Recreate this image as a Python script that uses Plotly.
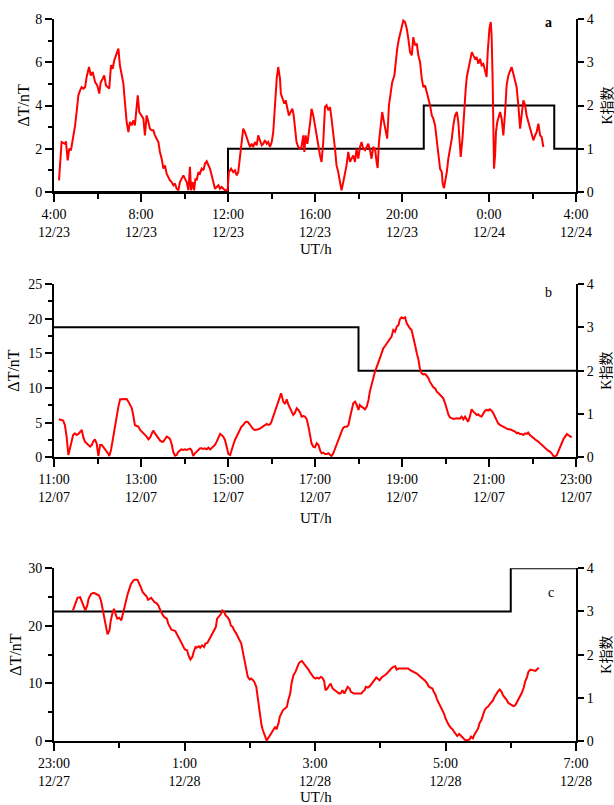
import plotly.graph_objects as go

# ---------------- data ----------------
# Panel a: hours since 04:00 12/23 ; dT in nT
a_time = [
    0.23,0.35,0.51,0.55,0.63,0.70,0.78,0.86,0.97,1.04,
    1.12,1.20,1.27,1.35,1.43,1.50,1.61,1.69,1.78,1.89,
    1.99,2.08,2.15,2.24,2.31,2.39,2.50,2.54,2.62,2.70,
    2.77,2.88,2.96,3.03,3.11,3.19,3.26,3.34,3.42,3.49,
    3.57,3.65,3.72,3.80,3.85,3.92,4.03,4.11,4.18,4.26,
    4.34,4.41,4.49,4.57,4.64,4.72,4.80,4.87,4.95,5.03,
    5.10,5.18,5.26,5.33,5.41,5.49,5.56,5.64,5.72,5.79,
    5.87,5.95,6.02,6.10,6.18,6.25,6.30,6.38,6.44,6.50,
    6.56,6.64,6.71,6.79,6.87,6.94,7.02,7.10,7.17,7.25,
    7.33,7.40,7.48,7.56,7.63,7.71,7.79,7.86,7.98,8.04,
    8.14,8.24,8.32,8.40,8.47,8.55,8.63,8.70,8.78,8.86,
    8.93,9.01,9.09,9.16,9.24,9.32,9.39,9.47,9.55,9.62,
    9.70,9.78,9.85,9.93,10.01,10.08,10.16,10.24,10.31,10.39,
    10.43,10.50,10.59,10.65,10.73,10.80,10.88,10.96,11.02,11.08,
    11.15,11.23,11.31,11.38,11.46,11.51,11.57,11.65,11.72,11.78,
    11.84,11.92,12.00,12.07,12.15,12.23,12.30,12.38,12.46,12.53,
    12.61,12.69,12.76,12.84,12.92,12.99,13.07,13.15,13.22,13.30,
    13.38,13.45,13.53,13.61,13.68,13.76,13.84,13.91,13.99,14.07,
    14.14,14.22,14.30,14.37,14.45,14.53,14.60,14.68,14.76,14.83,
    14.88,14.94,15.02,15.09,15.17,15.25,15.32,15.40,15.48,15.55,
    15.65,15.71,15.78,15.86,15.94,16.01,16.06,16.14,16.22,16.29,
    16.37,16.45,16.52,16.60,16.68,16.75,16.83,16.91,16.98,17.06,
    17.14,17.21,17.29,17.37,17.44,17.52,17.60,17.67,17.75,17.83,
    17.87,17.93,17.99,18.06,18.13,18.21,18.29,18.36,18.44,18.52,
    18.59,18.64,18.70,18.78,18.85,18.93,18.98,19.05,19.13,19.21,
    19.28,19.36,19.43,19.51,19.59,19.66,19.74,19.82,19.89,19.94,
    20.02,20.08,20.12,20.17,20.20,20.23,20.28,20.32,20.38,20.45,
    20.51,20.58,20.66,20.74,20.81,20.89,20.97,21.04,21.12,21.20,
    21.27,21.35,21.43,21.50,21.58,21.66,21.73,21.81,21.89,21.96,
    22.04,22.12,22.19,22.27,22.35,22.42,22.50,
]
a_dT = [
    0.54,2.31,2.23,2.34,1.46,2.00,1.93,2.39,3.08,3.70,
    4.47,4.70,4.85,4.78,4.85,5.32,5.78,5.39,5.55,5.08,
    4.93,4.55,5.08,5.24,5.39,4.93,4.85,4.78,5.86,5.70,
    6.09,6.47,6.63,5.86,5.47,5.01,4.16,3.24,2.77,3.24,
    3.08,3.31,3.08,4.01,4.47,3.70,3.54,3.39,2.62,3.54,
    3.24,2.93,2.85,2.85,2.62,2.47,2.31,1.85,1.54,1.08,
    1.23,0.85,0.69,0.54,0.46,0.31,0.39,0.15,0.08,0.46,
    0.62,0.77,0.62,0.46,0.08,1.16,0.08,0.46,0.08,0.62,
    0.54,0.92,0.85,1.08,1.00,1.31,1.42,1.23,1.08,0.77,
    0.39,0.15,0.23,0.31,0.15,0.23,0.15,0.08,0.08,0.92,
    1.08,0.92,1.00,0.77,0.92,1.69,2.31,2.93,2.77,2.47,
    2.31,2.08,2.23,2.08,2.31,2.16,2.62,2.39,2.16,2.23,
    2.39,2.23,2.31,2.08,2.31,2.77,4.01,5.24,5.78,5.24,
    4.55,4.31,4.08,4.24,3.93,3.54,3.70,3.85,3.54,2.93,
    2.31,2.08,2.00,2.08,2.62,1.85,2.62,2.23,2.70,3.24,
    3.85,3.54,3.08,2.62,2.31,1.69,1.39,2.31,3.93,4.01,
    3.78,3.93,3.39,2.77,2.00,1.23,0.92,0.46,0.08,0.46,
    0.85,1.23,1.85,1.39,1.54,1.69,1.39,2.00,1.54,2.08,
    2.31,2.00,1.93,2.08,2.23,1.93,1.54,2.08,2.00,1.39,
    1.11,2.31,2.93,3.70,3.24,2.85,2.47,4.01,4.62,5.08,
    5.39,6.01,6.63,7.09,7.40,7.70,7.93,7.86,7.55,7.09,
    6.47,6.32,7.16,6.78,6.86,6.32,6.01,5.24,4.85,4.93,
    4.62,4.39,4.01,3.54,3.39,3.08,2.47,1.85,1.08,0.92,
    0.39,0.18,0.46,0.92,1.54,2.00,2.47,3.08,3.54,3.70,
    3.24,2.47,1.62,2.47,3.85,4.78,5.32,5.70,6.16,6.47,
    6.32,6.16,6.24,5.93,6.16,5.86,5.93,5.55,5.32,6.47,
    7.55,7.86,7.24,5.08,2.77,1.08,1.69,2.77,3.24,3.54,
    3.70,3.39,2.62,3.70,4.93,5.39,5.62,5.78,5.47,5.16,
    4.85,4.01,2.93,3.54,4.24,4.01,3.54,3.24,2.93,2.70,
    2.39,2.62,2.77,3.16,2.62,2.54,2.08,
]
a_K_time = [0, 8, 17, 23, 24]
a_K = [0, 1, 2, 1, 1]
a_tickvals = [0, 4, 8, 12, 16, 20, 24]
a_ticktext = ["4:00<br>12/23", "8:00<br>12/23", "12:00<br>12/23", "16:00<br>12/23",
              "20:00<br>12/23", "0:00<br>12/24", "4:00<br>12/24"]
a_minor = [2, 6, 10, 14, 18, 22]

# Panel b: hours since 11:00 12/07
b_time = [
    0.11,0.18,0.21,0.25,0.29,0.33,0.37,0.41,0.44,0.48,
    0.52,0.56,0.60,0.64,0.67,0.71,0.75,0.79,0.83,0.87,
    0.90,0.94,0.98,1.02,1.06,1.10,1.13,1.17,1.21,1.25,
    1.27,1.31,1.35,1.39,1.43,1.48,1.52,1.59,1.67,1.71,
    1.75,1.79,1.82,1.86,1.90,1.94,1.98,2.02,2.05,2.09,
    2.13,2.17,2.21,2.25,2.28,2.32,2.36,2.40,2.44,2.48,
    2.51,2.55,2.59,2.63,2.67,2.71,2.74,2.78,2.82,2.86,
    2.90,2.93,2.97,3.01,3.05,3.09,3.13,3.16,3.20,3.24,
    3.28,3.32,3.36,3.39,3.43,3.47,3.51,3.55,3.59,3.62,
    3.66,3.70,3.74,3.78,3.82,3.85,3.89,3.93,3.97,4.01,
    4.05,4.08,4.12,4.16,4.20,4.24,4.28,4.31,4.35,4.39,
    4.43,4.47,4.51,4.54,4.58,4.62,4.66,4.70,4.74,4.81,
    4.85,4.89,4.93,4.97,5.00,5.04,5.08,5.12,5.16,5.20,
    5.22,5.25,5.27,5.31,5.35,5.39,5.43,5.46,5.50,5.54,
    5.58,5.62,5.66,5.69,5.73,5.77,5.81,5.85,5.89,5.92,
    5.96,6.00,6.04,6.08,6.12,6.15,6.19,6.23,6.27,6.31,
    6.35,6.38,6.42,6.46,6.50,6.54,6.57,6.61,6.65,6.69,
    6.73,6.77,6.80,6.84,6.88,6.92,6.96,7.00,7.03,7.07,
    7.11,7.15,7.19,7.23,7.26,7.30,7.34,7.38,7.42,7.46,
    7.49,7.53,7.57,7.61,7.65,7.69,7.72,7.76,7.80,7.84,
    7.88,7.92,7.95,7.99,8.03,8.07,8.11,8.15,8.18,8.22,
    8.26,8.30,8.34,8.38,8.41,8.45,8.49,8.53,8.57,8.61,
    8.64,8.68,8.72,8.76,8.80,8.84,8.87,8.91,8.95,8.99,
    9.03,9.07,9.10,9.14,9.18,9.26,9.33,9.37,9.41,9.45,
    9.49,9.52,9.56,9.60,9.64,9.68,9.72,9.75,9.79,9.83,
    9.87,9.91,9.95,9.98,10.02,10.06,10.10,10.14,10.18,10.21,
    10.25,10.29,10.33,10.37,10.41,10.44,10.48,10.52,10.56,10.60,
    10.64,10.67,10.71,10.75,10.79,10.83,10.87,10.90,10.94,10.98,
    11.02,11.06,11.10,11.13,11.17,11.21,11.25,11.29,11.33,11.36,
    11.40,11.44,11.48,11.52,11.56,11.59,11.63,11.67,11.71,11.75,
    11.79,11.82,11.86,11.90,
]
b_dT = [
    5.48,5.38,5.29,4.66,2.98,0.34,1.54,2.50,3.22,3.46,
    3.22,3.37,3.70,3.94,2.98,2.26,2.02,1.78,1.54,1.78,
    2.26,2.60,2.02,0.19,1.78,1.78,1.54,1.06,0.82,0.48,
    0.19,1.06,2.50,4.18,5.87,7.31,8.37,8.41,8.41,8.03,
    7.55,7.07,6.11,4.66,4.52,4.42,3.94,3.70,3.46,3.22,
    2.98,2.60,2.88,3.46,3.85,3.46,3.08,2.74,2.40,2.26,
    2.26,2.60,2.98,2.84,2.60,1.78,0.82,0.24,0.34,0.82,
    0.96,1.15,1.06,1.15,1.06,1.15,1.25,1.06,0.19,0.58,
    0.82,1.15,1.30,1.30,1.20,1.30,1.15,1.39,1.15,1.30,
    1.54,1.78,2.26,2.88,3.37,3.22,2.98,2.50,1.30,0.48,
    0.34,1.06,1.78,2.50,2.98,3.56,4.04,4.42,4.66,5.00,
    5.14,5.00,4.66,4.42,4.04,3.94,3.94,4.04,4.18,4.42,
    4.66,4.81,4.66,4.76,5.14,5.87,6.59,7.31,8.03,8.99,
    9.23,8.51,8.03,7.69,8.37,7.55,7.07,6.59,6.11,6.44,
    7.07,6.83,6.44,5.87,5.96,5.87,5.48,4.42,2.98,2.02,
    1.54,1.44,2.02,1.78,0.96,0.58,0.67,0.48,0.48,0.58,
    0.34,0.19,0.58,1.30,2.02,2.50,2.98,3.70,4.28,4.42,
    4.42,4.66,5.63,6.59,7.79,8.03,7.55,6.83,7.55,7.31,
    7.07,6.92,7.31,8.27,9.47,10.67,11.39,12.36,12.98,13.56,
    14.28,15.00,15.72,16.06,16.44,16.68,16.92,17.40,18.37,18.13,
    18.85,19.09,19.90,20.19,20.05,20.19,19.33,18.85,18.61,18.37,
    17.40,16.20,15.00,14.04,12.84,12.12,11.97,12.02,11.73,11.39,
    10.91,10.43,10.10,9.95,9.47,9.23,8.99,8.75,8.51,7.79,
    6.83,6.11,5.77,5.63,5.53,5.63,5.58,5.87,5.48,5.87,
    5.38,5.14,5.87,6.92,6.59,6.35,6.11,6.20,5.96,5.87,
    6.35,6.73,6.83,6.73,6.92,6.73,6.35,5.87,5.38,4.90,
    4.66,4.52,4.42,4.18,4.09,4.04,4.04,3.94,3.85,3.70,
    3.46,3.56,3.37,3.37,3.22,3.46,3.37,3.56,3.22,2.98,
    2.88,2.60,2.40,2.26,2.02,1.78,1.54,1.44,1.20,0.96,
    0.82,0.58,0.19,0.10,0.34,0.82,1.30,2.02,2.60,2.98,
    3.37,3.22,2.98,2.88,
]
b_K_time = [0, 7, 12]
b_K = [3, 2, 2]
b_tickvals = [0, 2, 4, 6, 8, 10, 12]
b_ticktext = ["11:00<br>12/07", "13:00<br>12/07", "15:00<br>12/07", "17:00<br>12/07",
              "19:00<br>12/07", "21:00<br>12/07", "23:00<br>12/07"]
b_minor = [1, 3, 5, 7, 9, 11]

# Panel c: hours since 23:00 12/27
c_time = [
    0.29,0.33,0.36,0.40,0.43,0.46,0.48,0.51,0.53,0.57,
    0.61,0.66,0.69,0.72,0.74,0.77,0.79,0.82,0.85,0.87,
    0.90,0.92,0.95,0.97,1.00,1.03,1.05,1.08,1.10,1.13,
    1.16,1.18,1.21,1.23,1.28,1.30,1.33,1.36,1.39,1.42,
    1.44,1.47,1.49,1.52,1.54,1.57,1.60,1.62,1.65,1.67,
    1.70,1.73,1.75,1.78,1.80,1.83,1.86,1.88,1.91,1.93,
    1.96,1.99,2.01,2.04,2.06,2.09,2.12,2.14,2.17,2.19,
    2.22,2.24,2.27,2.30,2.32,2.35,2.37,2.40,2.43,2.45,
    2.48,2.50,2.53,2.56,2.58,2.61,2.63,2.66,2.69,2.71,
    2.74,2.76,2.79,2.81,2.84,2.87,2.89,2.92,2.94,2.97,
    3.00,3.02,3.05,3.07,3.10,3.13,3.15,3.18,3.20,3.23,
    3.26,3.28,3.31,3.33,3.36,3.39,3.41,3.44,3.46,3.49,
    3.51,3.54,3.57,3.59,3.62,3.64,3.67,3.70,3.72,3.75,
    3.77,3.80,3.83,3.85,3.88,3.90,3.93,3.96,3.98,4.01,
    4.03,4.06,4.09,4.11,4.14,4.16,4.19,4.21,4.24,4.27,
    4.29,4.32,4.34,4.37,4.40,4.42,4.45,4.47,4.50,4.53,
    4.55,4.58,4.60,4.66,4.71,4.73,4.76,4.78,4.81,4.84,
    4.86,4.89,4.91,4.94,4.97,4.99,5.02,5.04,5.07,5.10,
    5.12,5.15,5.17,5.20,5.23,5.25,5.28,5.33,5.38,5.43,
    5.46,5.48,5.51,5.54,5.56,5.59,5.61,5.64,5.67,5.69,
    5.72,5.74,5.77,5.80,5.82,5.85,5.87,5.90,5.93,5.95,
    5.98,6.00,6.03,6.05,6.08,6.11,6.13,6.16,6.18,6.21,
    6.24,6.26,6.29,6.31,6.34,6.37,6.39,6.42,6.44,6.47,
    6.50,6.52,6.55,6.57,6.60,6.63,6.65,6.68,6.70,6.73,
    6.75,6.78,6.81,6.83,6.86,6.88,6.91,6.94,6.96,6.99,
    7.01,7.04,7.07,7.09,7.12,7.14,7.17,7.20,7.22,7.25,
    7.27,7.30,7.33,7.35,7.38,7.40,7.43,
]
c_dT = [
    22.68,23.83,24.87,24.99,24.12,23.25,22.68,23.54,24.70,25.56,
    25.74,25.45,25.27,24.41,23.25,21.81,20.08,18.52,19.22,20.95,
    22.39,22.97,21.81,21.24,21.41,20.95,21.81,23.25,24.41,25.56,
    26.60,27.29,27.76,27.99,27.99,27.58,26.72,25.85,25.56,25.10,
    24.52,24.70,24.87,24.41,24.12,23.95,23.54,22.97,22.22,21.81,
    21.41,21.24,20.37,19.79,19.33,19.22,19.10,18.64,18.06,17.48,
    16.91,16.21,15.87,15.75,14.89,14.14,14.60,15.46,16.33,16.21,
    16.45,16.21,16.62,16.33,16.91,17.02,17.48,18.06,18.64,19.22,
    19.79,21.24,21.64,22.10,22.68,22.39,21.81,21.52,20.95,20.08,
    19.79,19.22,18.75,18.35,17.77,16.91,15.75,14.02,12.87,11.14,
    10.67,10.85,10.56,10.27,9.41,7.10,4.79,2.77,1.90,1.04,
    0.06,0.46,0.87,1.33,1.90,2.48,2.02,3.06,4.21,5.08,
    5.37,5.65,5.94,7.10,8.25,9.98,11.43,12.00,12.75,13.44,
    13.73,13.91,13.44,13.16,12.87,12.41,11.83,11.43,11.02,10.85,
    11.02,10.85,11.14,11.02,10.44,8.83,9.12,9.52,9.98,9.12,
    8.94,8.71,8.54,8.25,8.37,8.83,8.25,8.83,9.41,9.12,
    8.54,8.37,8.25,8.25,8.25,8.54,8.83,9.41,9.29,9.52,
    9.87,10.27,10.56,11.02,10.68,10.56,11.02,11.25,11.43,11.71,
    12.00,12.29,12.58,12.87,12.98,12.41,12.58,12.58,12.58,12.58,
    12.29,12.18,12.00,11.83,11.71,11.43,11.25,11.02,10.68,10.44,
    9.98,9.52,9.29,9.12,8.54,7.96,7.21,6.52,5.94,5.37,
    4.67,3.92,3.17,2.77,2.31,2.02,1.62,1.21,0.87,1.21,
    0.87,0.46,0.29,0.06,0.17,0.29,0.75,0.46,1.04,1.62,
    2.19,3.06,3.64,4.33,5.37,5.83,5.94,6.41,6.64,7.10,
    7.67,8.25,8.71,8.94,8.54,7.96,7.56,7.10,6.64,6.41,
    6.23,6.06,6.23,6.64,7.10,7.67,8.37,9.29,10.27,11.14,
    12.00,12.41,12.29,12.18,12.18,12.41,12.75,
]
c_K_time = [0, 7, 8]
c_K = [3, 4, 4]
c_tickvals = [0, 2, 4, 6, 8]
c_ticktext = ["23:00<br>12/27", "1:00<br>12/28", "3:00<br>12/28", "5:00<br>12/28", "7:00<br>12/28"]
c_minor = [1, 3, 5, 7]

panel_labels = ["a", "b", "c"]
y_title = "ΔT/nT"
y2_title = "K指数"
x_title = "UT/h"

# ---------------- figure ----------------
FONT = "Liberation Serif, 'Noto Sans CJK SC', serif"
W, H = 614, 805
ML, MR, MT, MB = 54, 38, 19, 64
PW, PH = W - ML - MR, H - MT - MB


def px2paper(x, y):
    return (x - ML) / PW, (H - MB - y) / PH


panels = [
    dict(t=a_time, v=a_dT, kt=a_K_time, k=a_K, tv=a_tickvals, tt=a_ticktext, mn=a_minor,
         xr=[0, 24], yr=[0, 8], ydt=2, ymn=1, top=19, bot=192, lab=(548, 23), bold=True,
         ytx=23),
    dict(t=b_time, v=b_dT, kt=b_K_time, k=b_K, tv=b_tickvals, tt=b_ticktext, mn=b_minor,
         xr=[0, 12], yr=[0, 25], ydt=5, ymn=2.5, top=284, bot=457.3, lab=(548, 292), bold=False,
         ytx=14),
    dict(t=c_time, v=c_dT, kt=c_K_time, k=c_K, tv=c_tickvals, tt=c_ticktext, mn=c_minor,
         xr=[0, 8], yr=[0, 30], ydt=10, ymn=5, top=568.3, bot=741, lab=(551, 592), bold=False,
         ytx=16),
]
xtitle_y = [249, 518, 797]

fig = go.Figure()
layout = dict(
    width=W, height=H, margin=dict(l=ML, r=MR, t=MT, b=MB, pad=0),
    paper_bgcolor="white", plot_bgcolor="white", showlegend=False,
    font=dict(family=FONT, size=14, color="black"),
)
annotations = []
tickfont = dict(family=FONT, size=14, color="black")

for i, p in enumerate(panels):
    xn = "x" if i == 0 else f"x{i+1}"
    ykn = "y" if i == 0 else f"y{2*i+1}"
    ydn = f"y{2*i+2}"
    xkey = "xaxis" if i == 0 else f"xaxis{i+1}"
    ykkey = "yaxis" if i == 0 else f"yaxis{2*i+1}"
    ydkey = f"yaxis{2*i+2}"
    d0 = max(0.0, (H - MB - p["bot"]) / PH)
    d1 = min(1.0, (H - MB - p["top"]) / PH)

    fig.add_trace(go.Scatter(x=p["kt"], y=p["k"], mode="lines", line_shape="hv",
                             line=dict(color="black", width=2), xaxis=xn, yaxis=ykn,
                             hoverinfo="skip"))
    fig.add_trace(go.Scatter(x=p["t"], y=p["v"], mode="lines",
                             line=dict(color="#ff0000", width=2), xaxis=xn, yaxis=ydn))

    layout[xkey] = dict(
        domain=[0, 1], anchor=ykn, range=p["xr"], showgrid=False, zeroline=False,
        showline=True, linecolor="black", linewidth=2,
        tickmode="array", tickvals=p["tv"], ticktext=p["tt"],
        ticks="outside", ticklen=8, tickwidth=2, tickcolor="black", tickfont=tickfont,
        minor=dict(tickmode="array", tickvals=p["mn"], ticks="outside", ticklen=5,
                   tickwidth=2, tickcolor="black"),
    )
    layout[ykkey] = dict(
        domain=[d0, d1], anchor=xn, side="right", range=[0, 4], showgrid=False,
        zeroline=False, showline=True, linecolor="black", linewidth=2,
        tickmode="linear", tick0=0, dtick=1, ticks="outside", ticklen=6, tickwidth=2,
        tickcolor="black", tickfont=tickfont,
    )
    layout[ydkey] = dict(
        overlaying=ykn, anchor=xn, side="left", range=p["yr"], showgrid=False,
        zeroline=False, showline=True, linecolor="black", linewidth=2,
        tickmode="linear", tick0=0, dtick=p["ydt"], ticks="outside", ticklen=7, tickwidth=2,
        tickcolor="black", tickfont=tickfont,
        minor=dict(ticks="outside", ticklen=4, tickwidth=2, tickcolor="black", dtick=p["ymn"]),
    )

    cy = (p["top"] + p["bot"]) / 2
    ax, ay = px2paper(p["ytx"], cy)
    annotations.append(dict(text=y_title, x=ax, y=ay, xref="paper", yref="paper",
                            showarrow=False, textangle=-90, xanchor="center", yanchor="middle",
                            font=dict(family=FONT, size=16, color="black")))
    kx, ky = px2paper(607, cy)
    annotations.append(dict(text=y2_title, x=kx, y=ky, xref="paper", yref="paper",
                            showarrow=False, textangle=-90, xanchor="center", yanchor="middle",
                            font=dict(family=FONT, size=14, color="black")))
    ux, uy = px2paper(316, xtitle_y[i])
    annotations.append(dict(text=x_title, x=ux, y=uy, xref="paper", yref="paper",
                            showarrow=False, xanchor="center", yanchor="middle",
                            font=dict(family=FONT, size=15, color="black")))
    lx, ly = px2paper(*p["lab"])
    lab = f"<b>{panel_labels[i]}</b>" if p["bold"] else panel_labels[i]
    annotations.append(dict(text=lab, x=lx, y=ly, xref="paper", yref="paper",
                            showarrow=False, xanchor="center", yanchor="middle",
                            font=dict(family=FONT, size=14, color="black")))

layout["annotations"] = annotations
fig.update_layout(**layout)
fig.write_html("out.html")
